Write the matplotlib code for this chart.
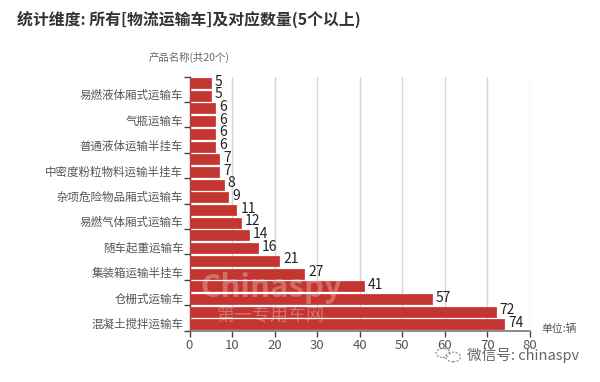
import matplotlib
matplotlib.use("Agg")
import matplotlib.pyplot as plt
from matplotlib.patches import Circle

plt.rcParams['font.family'] = ['Noto Sans CJK SC', 'DejaVu Sans']

values = [5, 5, 6, 6, 6, 6, 7, 7, 8, 9, 11, 12, 14, 16, 21, 27, 41, 57, 72, 74]
labels = ['', '易燃液体厢式运输车', '', '气瓶运输车', '', '普通液体运输半挂车', '', '中密度粉粒物料运输半挂车',
          '', '杂项危险物品厢式运输车', '', '易燃气体厢式运输车', '', '随车起重运输车', '', '集装箱运输半挂车',
          '', '仓栅式运输车', '', '混凝土搅拌运输车']
xticks = [0, 10, 20, 30, 40, 50, 60, 70, 80]
title = '统计维度: 所有[物流运输车]及对应数量(5个以上)'

W, H = 600, 382
fig = plt.figure(figsize=(W / 100, H / 100), dpi=100)
L, R, T, B = 189.5, 529.7, 76.7, 330.7
ax = fig.add_axes([L / W, 1 - B / H, (R - L) / W, (B - T) / H])
pos = list(range(len(values)))

ax.barh(pos, values, height=0.78, color='#c23531', edgecolor='#cf3f3a', linewidth=0.6, zorder=3)
ax.set_xlim(0, 80)
ax.set_ylim(len(values) - 0.5, -0.5)
ax.set_xticks(xticks)
ax.tick_params(axis='x', length=4, width=1, color='#444444', labelcolor='#555555', labelsize=9.5, pad=2)
ax.grid(axis='x', color='#d4d4d4', linewidth=1, zorder=0)
ax.set_axisbelow(True)

ax.set_yticks([-0.5] + [p + 0.5 for p in pos[1::2]])
ax.set_yticklabels([])
ax.tick_params(axis='y', length=4, width=1, color='#444444')
for p, lab in zip(pos, labels):
    if lab:
        ax.annotate(lab, (0, p), xytext=(-4.5, 0), textcoords='offset points', ha='right', va='center',
                    fontsize=8.3, color='#555555', annotation_clip=False)

for s in ['top', 'right']:
    ax.spines[s].set_visible(False)
ax.spines['left'].set_color('#444444')
ax.spines['left'].set_linewidth(1)
ax.spines['bottom'].set_color('#777777')
ax.spines['bottom'].set_linewidth(1.2)

for p, v in zip(pos, values):
    ax.annotate(str(v), (v, p), xytext=(3, 1), textcoords='offset points', ha='left', va='center',
                fontsize=10, color='#222222', zorder=5)

fig.text(17 / W, 1 - 19 / H, title, fontsize=11.4, fontweight='bold', color='#333333', ha='left', va='center')
fig.text(189 / W, 1 - 57 / H, '产品名称(共20个)', fontsize=7.5, color='#666666', ha='center', va='center')
fig.text(559.5 / W, 1 - 329 / H, '单位:辆', fontsize=7.8, color='#555555', ha='center', va='center')

fig.text(200 / W, 1 - 288 / H, 'Chinaspy', fontsize=22.5, fontweight='bold', style='italic', color='white',
         alpha=0.28, ha='left', va='center', zorder=10)
fig.text(216 / W, 1 - 316 / H, '第一专用车网', fontsize=13, color='white', alpha=0.3,
         ha='left', va='center', zorder=10)

fig.text(467 / W, 1 - 355 / H, '微信号: chinaspv', fontsize=10.5, color='#666666', ha='left', va='center')
for cx, cy, r in [(443, 353, 7), (453, 357, 7.5)]:
    fig.add_artist(Circle((cx / W, 1 - cy / H), r / W, transform=fig.transFigure, fill=False,
                          edgecolor='#888888', linewidth=0.9, linestyle=(0, (1.5, 1.5))))

fig.savefig('out.png', dpi=100)
